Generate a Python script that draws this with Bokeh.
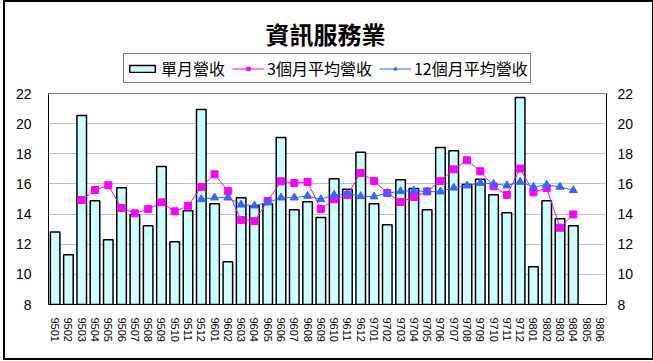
from bokeh.plotting import figure
from bokeh.models import (ColumnDataSource, FactorRange, Range1d, LinearAxis,
                          FixedTicker, Legend, LegendItem, Label, Span)
from bokeh.embed import file_html
from bokeh.resources import INLINE

title = "資訊服務業"
months = ["9501", "9502", "9503", "9504", "9505", "9506", "9507", "9508", "9509", "9510", "9511", "9512",
          "9601", "9602", "9603", "9604", "9605", "9606", "9607", "9608", "9609", "9610", "9611", "9612",
          "9701", "9702", "9703", "9704", "9705", "9706", "9707", "9708", "9709", "9710", "9711", "9712",
          "9801", "9802", "9803", "9804", "9805", "9806"]
monthly = [12.81, 11.30, 20.54, 14.89, 12.30, 15.75, 13.96, 13.23, 17.15, 12.16, 14.22, 20.94,
           14.69, 10.83, 15.09, 14.56, 14.69, 19.08, 14.29, 14.82, 13.78, 16.35, 15.64, 18.10,
           14.69, 13.29, 16.28, 15.69, 14.29, 18.41, 18.21, 15.97, 16.31, 15.29, 14.09, 21.73,
           10.50, 14.89, 13.69, 13.23]
avg3 = [14.93, 15.60, 15.91, 14.40, 14.05, 14.33, 14.78, 14.18, 14.53, 15.80,
        16.64, 15.53, 13.60, 13.53, 14.87, 16.17, 16.06, 16.13, 14.33, 14.98, 15.27, 16.73,
        16.20, 15.40, 14.80, 15.13, 15.50, 16.20, 16.97, 17.57, 16.84, 15.84, 15.27, 17.02,
        15.44, 15.73, 13.09, 13.98]
avg12 = [14.98,
         15.09, 15.09, 14.62, 14.56, 14.76, 15.09, 15.09, 15.20, 14.98, 15.27, 15.36, 15.18,
         15.16, 15.40, 15.51, 15.55, 15.49, 15.49, 15.75, 15.89, 16.06, 16.00, 15.89, 16.13,
         15.80, 15.93, 15.80, 15.58]
y_min, y_max = 8, 22
y_ticks = [8, 10, 12, 14, 16, 18, 20, 22]
legend_labels = ["單月營收", "3個月平均營收", "12個月平均營收"]

avg3_months = months[2:2 + len(avg3)]
avg12_months = months[11:11 + len(avg12)]

# plot frame extends up to the canvas top so that title and legend sit inside it;
# the value axis itself spans 8..22 (about 15.07 px per unit, 91 px of headroom)
headroom = 91 / 15.07

p = figure(x_range=FactorRange(factors=months, range_padding=0),
           y_range=Range1d(y_min, y_max + headroom), width=651, height=360,
           output_backend="svg", toolbar_location=None,
           min_border_left=43, min_border_right=50, min_border_top=0, min_border_bottom=58)
p.styles = {"border": "2px solid black", "margin-left": "3px"}
p.background_fill_color = "white"
p.border_fill_color = "white"
p.outline_line_color = None

src_bar = ColumnDataSource(dict(x=months[:len(monthly)], y=monthly))
bars = p.vbar(x="x", top="y", bottom=y_min, width=0.72, source=src_bar,
              fill_color="#CCFFFF", line_color="black", line_width=1.5)

src3 = ColumnDataSource(dict(x=avg3_months, y=avg3))
l3 = p.line("x", "y", source=src3, line_color="#FF00FF", line_width=1)
s3 = p.scatter("x", "y", source=src3, marker="square", size=7,
               fill_color="#FF00FF", line_color="#FF00FF")

src12 = ColumnDataSource(dict(x=avg12_months, y=avg12))
l12 = p.line("x", "y", source=src12, line_color="#3366FF", line_width=1)
s12 = p.scatter("x", "y", source=src12, marker="triangle", size=8,
                fill_color="#3366FF", line_color="#3366FF")

p.xgrid.grid_line_color = None
p.ygrid.ticker = FixedTicker(ticks=y_ticks[1:-1])
p.ygrid.grid_line_color = "#C0C0C0"
p.add_layout(Span(location=y_max, dimension="width", line_color="#808080", line_width=1))

xa = p.xaxis[0]
xa.major_label_orientation = "vertical"
xa.major_label_text_font = "Liberation Sans"
xa.major_label_text_font_size = "11px"
xa.major_label_text_color = "black"
xa.major_tick_out = 0
xa.major_tick_in = 0
xa.major_label_standoff = 13
xa.axis_line_color = "black"

def style_y(ax, standoff):
    ax.ticker = FixedTicker(ticks=y_ticks)
    ax.bounds = (y_min, y_max)
    ax.major_label_text_font = "Liberation Sans"
    ax.major_label_text_font_size = "14px"
    ax.major_label_text_color = "black"
    ax.major_tick_out = 0
    ax.major_tick_in = 0
    ax.minor_tick_out = 0
    ax.minor_tick_in = 0
    ax.major_label_standoff = standoff
    ax.axis_line_color = "black"

style_y(p.yaxis[0], 17)
ra = LinearAxis()
style_y(ra, 11)
p.add_layout(ra, "right")

legend = Legend(items=[LegendItem(label=legend_labels[0], renderers=[bars]),
                       LegendItem(label=legend_labels[1], renderers=[l3, s3]),
                       LegendItem(label=legend_labels[2], renderers=[l12, s12])],
                orientation="horizontal", location=(75, 221),
                label_text_font="Noto Sans CJK TC", label_text_font_size="16px",
                label_text_color="black",
                glyph_width=32, glyph_height=9, label_height=17, label_standoff=3,
                spacing=7, padding=2, margin=0,
                border_line_color="black", border_line_width=1,
                background_fill_color="white", background_fill_alpha=1)
p.add_layout(legend, "center")

p.add_layout(Label(x=277, y=271, x_units="screen", y_units="screen", text=title,
                   text_align="center", text_baseline="middle",
                   text_font="Noto Sans CJK TC", text_font_size="24px",
                   text_font_style="bold", text_color="black"))

open("out.html", "w").write(file_html(p, INLINE))
